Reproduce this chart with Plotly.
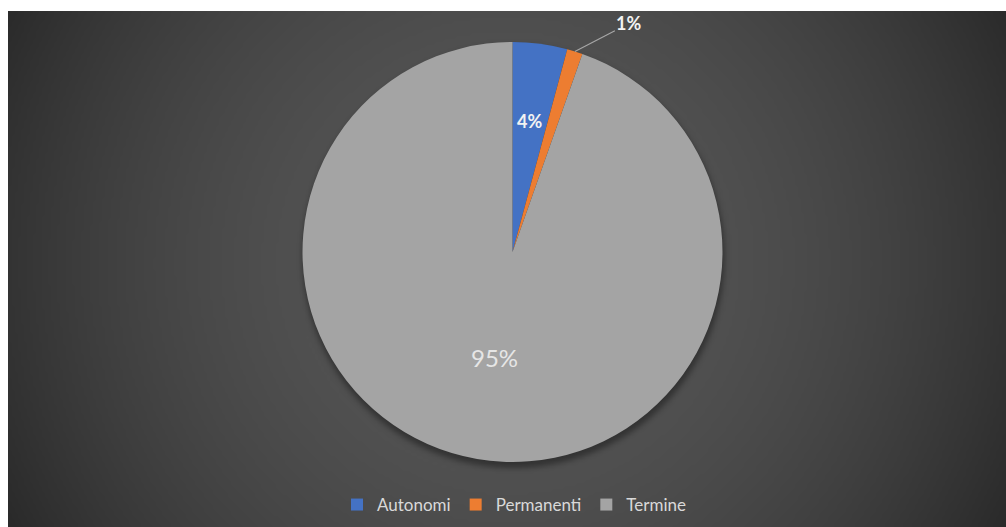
import numpy as np
import plotly.graph_objects as go

# ---- data -------------------------------------------------------------
categories = ["Autonomi", "Permanenti", "Termine"]
shares = [4.2, 1.2, 94.6]          # percent of total
slice_colors = ["#4472C4", "#ED7D31", "#A4A4A4"]

# ---- canvas geometry (pixels) -----------------------------------------
W, H = 1006, 527
left, top = 8, 11                  # white frame around the chart area
cx, cy, R = 512.5, 252.0, 210.0    # pie centre and radius

plot_w, plot_h = W - left, H - top

def to_dom_x(px):
    return (px - left) / plot_w

def to_dom_y(py):
    return (H - py) / plot_h

# ---- dark radial background with a soft drop shadow under the pie -----
step = 3
xs = np.arange(left + step / 2, W, step)
ys = np.arange(top + step / 2, H, step)
X, Y = np.meshgrid(xs, ys)
bg = 86 - 1.4e-4 * ((X - 507) ** 2 + (Y - 262) ** 2)
bg = np.clip(bg, 40, 255)
d = np.sqrt((X - cx) ** 2 + (Y - (cy + 4)) ** 2)
shadow = 0.5 * (1 - np.tanh((d - (R + 1)) / 3.5))
bg = bg * (1 - 0.38 * shadow)
bg = np.round(bg).astype(int)

fig = go.Figure()
fig.add_trace(go.Heatmap(
    x=xs, y=ys, z=bg,
    colorscale=[[0, "rgb(0,0,0)"], [1, "rgb(255,255,255)"]],
    zmin=0, zmax=255, zsmooth="best",
    showscale=False, hoverinfo="skip",
))

fig.add_trace(go.Pie(
    labels=categories,
    values=shares,
    marker=dict(colors=slice_colors, line=dict(width=0)),
    sort=False,
    direction="clockwise",
    rotation=0,
    textinfo="none",
    hoverinfo="label+percent",
    domain=dict(x=[to_dom_x(cx - R), to_dom_x(cx + R)],
                y=[to_dom_y(cy + R), to_dom_y(cy - R)]),
    showlegend=True,
))

# ---- data labels placed along each slice's bisector --------------------
total = sum(shares)
label_radius = [0.63, None, 0.51]
label_font = [dict(size=18, color="#F2F2F2", family="Lato", weight="bold"),
              dict(size=18, color="#F2F2F2", family="Lato", weight="bold"),
              dict(size=24, color="#E6E6E6", family="Lato")]
cum = 0.0
for i, v in enumerate(shares):
    mid = np.deg2rad((cum + v / 2) / total * 360)
    cum += v
    text = f"{round(v / total * 100)}%"
    if label_radius[i] is not None:
        r = label_radius[i] * R
        fig.add_annotation(x=cx + r * np.sin(mid), y=cy - r * np.cos(mid),
                           xref="x", yref="y", text=text, showarrow=False,
                           font=label_font[i])
    else:
        ex, ey = cx + R * np.sin(mid), cy - R * np.cos(mid)
        fig.add_annotation(x=ex, y=ey, xref="x", yref="y", text=text,
                           showarrow=True, arrowhead=0, arrowwidth=1.2,
                           arrowcolor="#A6A6A6", ax=54, ay=-28,
                           font=label_font[i])

fig.update_xaxes(range=[left, W], visible=False, fixedrange=True)
fig.update_yaxes(range=[H, top], visible=False, fixedrange=True)

fig.update_layout(
    width=W, height=H,
    margin=dict(l=left, r=0, t=top, b=0, pad=0),
    paper_bgcolor="white",
    plot_bgcolor="#3a3a3a",
    font=dict(family="Lato", color="#D9D9D9"),
    legend=dict(orientation="h", x=to_dom_x(514), xanchor="center",
                y=to_dom_y(505), yanchor="middle",
                font=dict(size=17, color="#D9D9D9", family="Lato"),
                bgcolor="rgba(0,0,0,0)", itemwidth=30, traceorder="normal"),
)

fig.write_html("out.html")
